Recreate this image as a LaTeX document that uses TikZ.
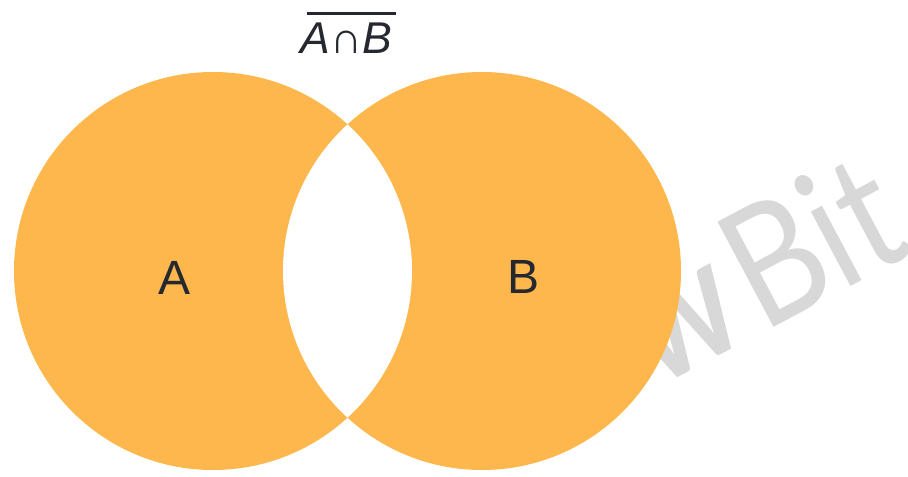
\documentclass[tikz,border=0pt]{standalone}
\usepackage{fontspec}
\setmainfont{Liberation Sans}
\newfontfamily\wmfont{Lato}
\usetikzlibrary{positioning}
\definecolor{vnorange}{RGB}{253,183,77}
\definecolor{vntext}{RGB}{38,40,48}
\definecolor{vnmark}{RGB}{216,216,216}

\begin{document}
\begin{tikzpicture}[x=0.03cm, y=-0.03cm,
  setlabel/.style={font=\fontsize{41}{41}\selectfont, text=vntext, inner sep=0pt},
  wmark/.style={font=\wmfont\fontsize{142}{142}\selectfont, text=vnmark, inner sep=0pt,
                rotate=28}]
\useasboundingbox (0,0) rectangle (908,476);
\clip (0,0) rectangle (908,476);
% watermark behind the sets
\coordinate (wmbit) at (762,334);
\coordinate (wmw) at (752,338);
\node[wmark, xscale=0.85, anchor=base west] (wmright) at (wmbit) {Bit};
\node[wmark, xscale=0.8, font=\wmfont\bfseries\fontsize{142}{142}\selectfont,
      anchor=base east] (wmleft) at (wmw) {w};
% the two sets
\coordinate (ca) at (213,271);
\coordinate (cb) at (482,271);
\fill[vnorange] (ca) circle [radius=199];
\fill[vnorange] (cb) circle [radius=199];
\begin{scope}
  \clip (ca) circle [radius=199];
  \fill[white] (cb) circle [radius=199];
\end{scope}
\node[setlabel] (la) at (175,278) {A};
\node[setlabel] (lb) at (524,277) {B};
\node[text=vntext, inner sep=0pt, anchor=base,
      font=\itshape\fontsize{38}{38}\selectfont] (title) at (346,53) {A∩B};
\draw[vntext, line width=0.09cm] ([xshift=7*0.03cm, yshift=9*0.03cm]title.north west)
  -- ([xshift=4*0.03cm, yshift=9*0.03cm]title.north east);
\end{tikzpicture}
\end{document}
